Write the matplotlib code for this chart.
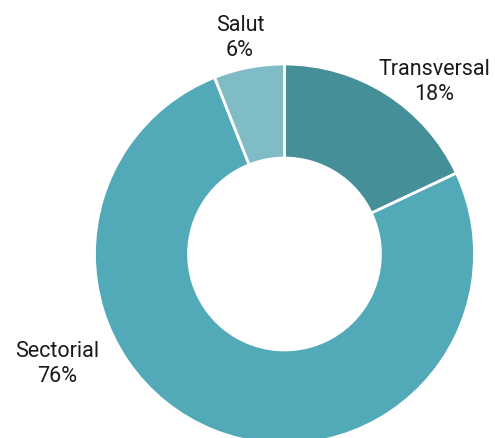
import matplotlib
matplotlib.use("Agg")
import matplotlib.pyplot as plt

categories = ["Transversal", "Sectorial", "Salut"]
values = [18, 76, 6]
colors = ["#458F98", "#52AAB8", "#7FBCC6"]

W, H = 495, 439
fig = plt.figure(figsize=(W / 100, H / 100), dpi=100)
ax = fig.add_axes([0, 0, 1, 1])

cx, cy, R = 284.5, H - 255, 190
ax.pie(values, colors=colors, startangle=90, counterclock=False,
       center=(cx, cy), radius=R, frame=True,
       wedgeprops=dict(width=R * 0.495, edgecolor="white", linewidth=2))
ax.set_xlim(0, W)
ax.set_ylim(0, H)
ax.set_aspect("equal")
ax.axis("off")

label_pos = {"Transversal": (434, H - 82), "Sectorial": (57, H - 364), "Salut": (240, H - 38)}
for c, v in zip(categories, values):
    x, y = label_pos[c]
    ax.text(x, y, f"{c}\n{v}%", ha="center", va="center", fontsize=15.5,
            family="Roboto", fontweight="normal", color="#1a1a1a", linespacing=1.2)

fig.savefig("out.png", dpi=100)
